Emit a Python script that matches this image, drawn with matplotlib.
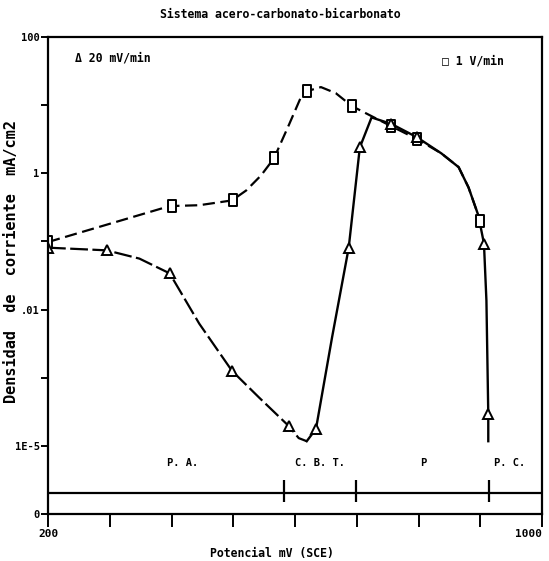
import matplotlib.pyplot as plt
from matplotlib.path import Path

# scanned curve: current density (mA/cm2) vs potential (mV SCE)
# 1 V/min curve (dashed, squares)
sq_path_mv = [200, 397, 445, 498, 521, 545, 566, 590, 611, 619, 642, 666, 692,
              756, 797, 837, 865, 881, 900]
sq_path_j = [0.098, 0.33, 0.34, 0.40, 0.56, 0.93, 1.66, 5.1, 14, 16, 18.4, 15, 9.7,
             4.9, 3.2, 1.96, 1.23, 0.62, 0.20]
sq_mark_mv = [200, 400, 500, 566, 619, 692, 756, 797, 900]
sq_mark_j = [0.098, 0.33, 0.40, 1.66, 16, 9.7, 4.9, 3.2, 0.20]

# 20 mV/min curve (triangles): descending part, then rising part
tri_down_mv = [200, 295, 348, 397, 445, 498, 542, 590, 606, 619]
tri_down_j = [0.081, 0.074, 0.056, 0.034, 6.2e-3, 1.26e-3, 5.1e-4, 1.95e-4, 1.3e-4, 1.17e-4]
tri_up_mv = [619, 634, 660, 687, 705, 724, 756, 797, 837, 865, 881, 897, 906, 910, 913, 913]
tri_up_j = [1.17e-4, 1.78e-4, 3.9e-3, 0.081, 2.4, 6.6, 5.3, 3.4, 1.96, 1.23, 0.62,
            0.24, 0.093, 0.0135, 2.9e-4, 1.17e-4]
tri_mark_mv = [200, 295, 397, 498, 590, 634, 687, 705, 756, 797, 906, 913]
tri_mark_j = [0.081, 0.074, 0.034, 1.26e-3, 1.95e-4, 1.78e-4, 0.081, 2.4, 5.3, 3.4,
              0.093, 2.9e-4]

# regions along the bottom strip
region_names = ["P. A.", "C. B. T.", "P", "P. C."]
region_centers = [418, 640, 808, 948]
region_bounds = [582, 698, 914]

ytick_vals = [1e-5, 1e-4, 1e-3, 1e-2, 1e-1, 1, 10, 100]
ytick_labels = ["0", "1E-5", "", ".01", "", "1", "", "100"]
xtick_vals = [200, 300, 400, 500, 600, 700, 800, 900, 1000]
xtick_labels = ["200", "", "", "", "", "", "", "", "1000"]

mono = ['DejaVu Sans Mono', 'DejaVu Sans']
plt.rcParams['font.family'] = mono
plt.rcParams['font.weight'] = 'bold'

fig = plt.figure(figsize=(5.49, 5.61), dpi=100)
ax = fig.add_axes([48/549, 47/561, 494/549, 477/561])

rect = Path([(-0.6, -1), (0.6, -1), (0.6, 1), (-0.6, 1), (-0.6, -1)],
            [Path.MOVETO, Path.LINETO, Path.LINETO, Path.LINETO, Path.CLOSEPOLY])

ax.plot(sq_path_mv, sq_path_j, color='black', lw=1.6, linestyle=(0, (5.5, 2.5)))
ax.plot(tri_down_mv, tri_down_j, color='black', lw=1.6, linestyle=(0, (8, 2)))
ax.plot(tri_up_mv, tri_up_j, color='black', lw=1.7)
ax.plot(sq_mark_mv, sq_mark_j, linestyle='none', marker=rect, ms=9,
        mfc='white', mec='black', mew=1.4)
ax.plot(tri_mark_mv, tri_mark_j, linestyle='none', marker='^', ms=6.5,
        mfc='white', mec='black', mew=1.4)

# bottom strip
ax.axhline(2.0e-5, color='black', lw=1.6)
ax.vlines(region_bounds, 1.5e-5, 3.2e-5, color='black', lw=1.6)
for name, xc in zip(region_names, region_centers):
    ax.text(xc, 5.6e-5, name, ha='center', va='center', fontsize=7.5,
            fontweight='bold')

ax.set_yscale('log')
ax.set_xlim(200, 1000)
ax.set_ylim(1e-5, 100)
ax.set_yticks(ytick_vals)
ax.set_yticklabels(ytick_labels)
ax.yaxis.set_minor_locator(plt.NullLocator())
ax.set_xticks(xtick_vals)
ax.set_xticklabels(xtick_labels)
ax.tick_params(axis='x', direction='out', length=9, width=1.4, labelsize=8, pad=2)
ax.tick_params(axis='y', direction='out', length=5, width=1.4, labelsize=7.5, pad=1)
ax.get_xticklabels()[-1].set_ha('right')
for s in ax.spines.values():
    s.set_linewidth(1.6)

# legend texts
ax.text(0.055, 0.956, "\u0394 20 mV/min", transform=ax.transAxes, fontsize=8.3,
        fontweight='bold', va='center', family=mono)
ax.text(0.798, 0.950, "\u25a1 1 V/min", transform=ax.transAxes, fontsize=8.3,
        fontweight='bold', va='center', family=mono)

fig.text(280/549, 1 - 15/561, "Sistema acero-carbonato-bicarbonato",
         ha='center', va='center', fontsize=8.3, fontweight='bold')
fig.text(12/549, 1 - 262/561, "Densidad  de  corriente  mA/cm2", rotation=90,
         ha='center', va='center', fontsize=11, fontweight='bold')
fig.text(272/549, 1 - 553/561, "Potencial mV (SCE)", ha='center', va='center',
         fontsize=8.3, fontweight='bold')

fig.savefig('out.png', dpi=100)
